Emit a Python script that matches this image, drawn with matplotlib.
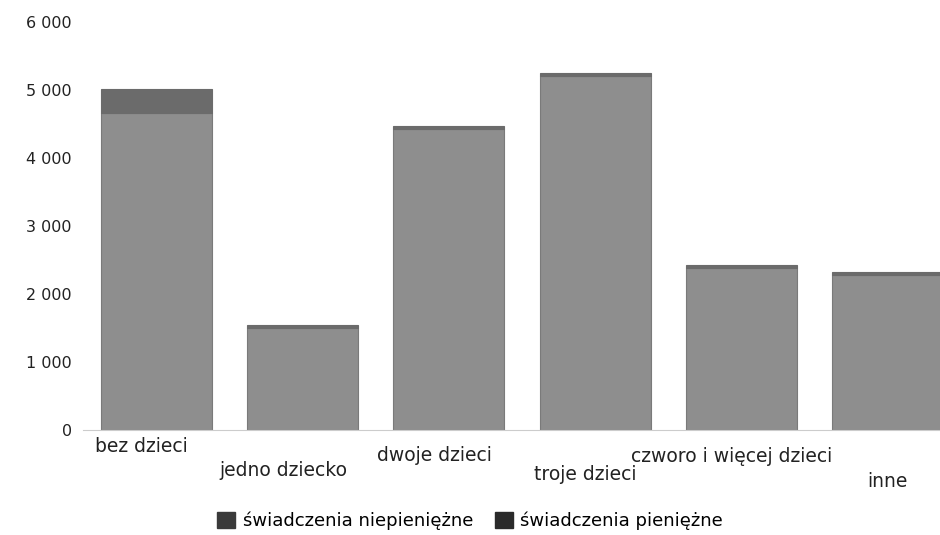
import matplotlib.pyplot as plt
import numpy as np
from matplotlib.patches import Patch
from matplotlib.ticker import FuncFormatter

plt.rcParams['font.family'] = ['DejaVu Sans']

# dane
kategorie = ['bez dzieci', 'jedno dziecko', 'dwoje dzieci', 'troje dzieci',
             'czworo i więcej dzieci', 'inne']
pieniezne = [4660, 1500, 4420, 5200, 2390, 2280]
niepieniezne = [360, 45, 50, 50, 40, 40]

# przesunięcia podpisów osi X (w punktach)
label_dx = [-11, -14, -10, -7, -7, 0]
label_dy = [-12, -29, -18, -32, -19, -37]

fig = plt.figure(figsize=(9.4, 5.35), dpi=100)
ax = fig.add_axes([0.0883, 0.196, 0.934, 0.763])

x = np.arange(len(kategorie))
ax.bar(x, pieniezne, width=0.76, color='#8e8e8e', edgecolor='#7a7a7a', linewidth=0.8)
ax.bar(x, niepieniezne, width=0.76, bottom=pieniezne, color='#6b6b6b',
       edgecolor='#6b6b6b', linewidth=0.8)

ax.set_xlim(-0.5, len(kategorie) - 0.5)
ax.set_ylim(0, 6000)
ax.set_yticks(np.arange(0, 6001, 1000))
ax.yaxis.set_major_formatter(FuncFormatter(lambda v, p: f"{int(v):,}".replace(',', ' ')))
ax.tick_params(axis='y', length=0, pad=8, labelsize=11.5, labelcolor='#222222')
ax.set_xticks([])

for s in ['top', 'right', 'left']:
    ax.spines[s].set_visible(False)
ax.spines['bottom'].set_color('#cccccc')

for i, lab in enumerate(kategorie):
    ax.annotate(lab, xy=(x[i], 0), xycoords=('data', 'axes fraction'),
                xytext=(label_dx[i], label_dy[i]), textcoords='offset points',
                ha='center', va='center', fontsize=13.5, color='#222222')

handles = [Patch(facecolor='#3a3a3a', edgecolor='#3a3a3a', hatch='..'),
           Patch(facecolor='#2a2a2a', edgecolor='#2a2a2a')]
fig.legend(handles, ['świadczenia niepieniężne', 'świadczenia pieniężne'],
           loc='center', bbox_to_anchor=(0.5, 0.027), ncol=2, frameon=False,
           fontsize=13, handlelength=1.0, handleheight=1.0, columnspacing=1.2,
           handletextpad=0.4)

plt.savefig('out.png', dpi=100)
